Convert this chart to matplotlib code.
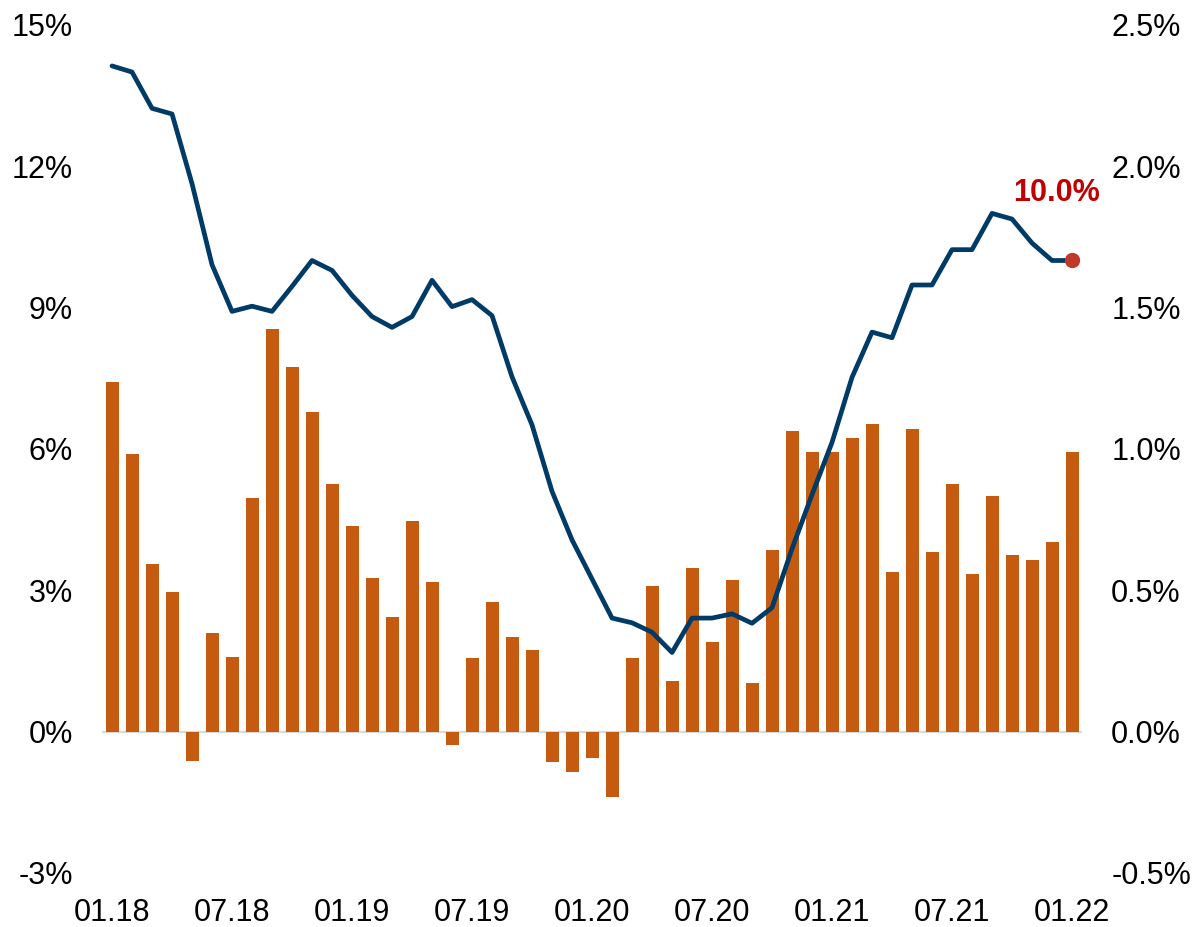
import matplotlib
matplotlib.use('Agg')
import matplotlib.pyplot as plt
from matplotlib.ticker import FuncFormatter
import numpy as np
import pandas as pd

# monthly points, 01.18 .. 01.22
months = pd.date_range('2018-01-01', '2022-01-01', freq='MS')

# year-on-year growth, left axis (%)
yoy = [14.13, 14.0, 13.23, 13.11, 11.63, 9.91, 8.92, 9.03, 8.92, 9.45,
       10.0, 9.79, 9.26, 8.81, 8.58, 8.81, 9.58, 9.02, 9.17, 8.83,
       7.53, 6.51, 5.10, 4.07, 3.24, 2.41, 2.31, 2.11, 1.68, 2.41,
       2.41, 2.50, 2.30, 2.63, 3.88, 5.03, 6.14, 7.52, 8.48, 8.36,
       9.48, 9.48, 10.23, 10.23, 11.0, 10.88, 10.37, 10.0, 10.0]

# month-on-month change, right axis (%)
mom = [1.237, 0.982, 0.594, 0.494, -0.103, 0.350, 0.264, 0.826, 1.423, 1.289,
       1.129, 0.875, 0.727, 0.545, 0.405, 0.746, 0.529, -0.048, 0.260, 0.457,
       0.334, 0.289, -0.108, -0.142, -0.093, -0.231, 0.260, 0.514, 0.178, 0.580,
       0.316, 0.538, 0.171, 0.644, 1.065, 0.990, 0.990, 1.039, 1.090, 0.564,
       1.070, 0.635, 0.877, 0.557, 0.834, 0.624, 0.607, 0.672, 0.990]

left_ticks = [-3, 0, 3, 6, 9, 12, 15]
right_ticks = [-0.5, 0.0, 0.5, 1.0, 1.5, 2.0, 2.5]

LINE_COL = '#003A66'
BAR_COL = '#C55A11'
DOT_COL = '#C0392B'
LABEL_COL = '#C00000'


def configureFig():
    plt.rcParams['font.family'] = ['Liberation Sans', 'DejaVu Sans']
    plt.rcParams['font.size'] = 22
    fig = plt.figure(figsize=(11.96, 9.27), dpi=100)
    fig.set_facecolor('white')
    return fig


def configureAx(fig):
    ax = fig.add_axes([0.0853, 0.0583, 0.8194, 0.9148])
    ax2 = ax.twinx()
    # line axis drawn over the bars
    ax.set_zorder(ax2.get_zorder() + 1)
    ax.patch.set_visible(False)

    for a in (ax, ax2):
        for s in a.spines.values():
            s.set_visible(False)

    ax.set_xlim(-0.5, len(months) - 0.5)
    ax.set_ylim(left_ticks[0], left_ticks[-1])
    ax2.set_ylim(right_ticks[0], right_ticks[-1])

    ax.set_yticks(left_ticks)
    ax.yaxis.set_major_formatter(FuncFormatter(lambda v, p: '%d%%' % v))
    ax2.set_yticks(right_ticks)
    ax2.yaxis.set_major_formatter(FuncFormatter(lambda v, p: '%.1f%%' % v))

    xt = np.arange(0, len(months), 6)
    ax.set_xticks(xt)
    ax.set_xticklabels([months[i].strftime('%m.%y') for i in xt])

    ax.tick_params(axis='y', length=0, pad=21, labelsize=22)
    ax2.tick_params(axis='y', length=0, pad=21, labelsize=22)
    ax.tick_params(axis='x', length=0, pad=18, labelsize=22)
    return ax, ax2


def main():
    fig = configureFig()
    ax, ax2 = configureAx(fig)
    x = np.arange(len(months))

    ax2.axhline(0, color='#D9D9D9', lw=1.5, zorder=1)
    ax2.bar(x, mom, width=0.65, color=BAR_COL, zorder=2)

    ax.plot(x, yoy, color=LINE_COL, lw=3.4, solid_joinstyle='round',
            solid_capstyle='round', zorder=3)
    ax.plot(x[-1], yoy[-1], 'o', color=DOT_COL, markersize=10, zorder=4)
    ax.annotate('%.1f%%' % yoy[-1], xy=(x[-1], yoy[-1]), xytext=(-11, 43),
                textcoords='offset points', ha='center', va='baseline',
                color=LABEL_COL, fontsize=22, fontweight='bold')

    fig.savefig('out.png', dpi=100, facecolor='white')


if __name__ == '__main__':
    main()
